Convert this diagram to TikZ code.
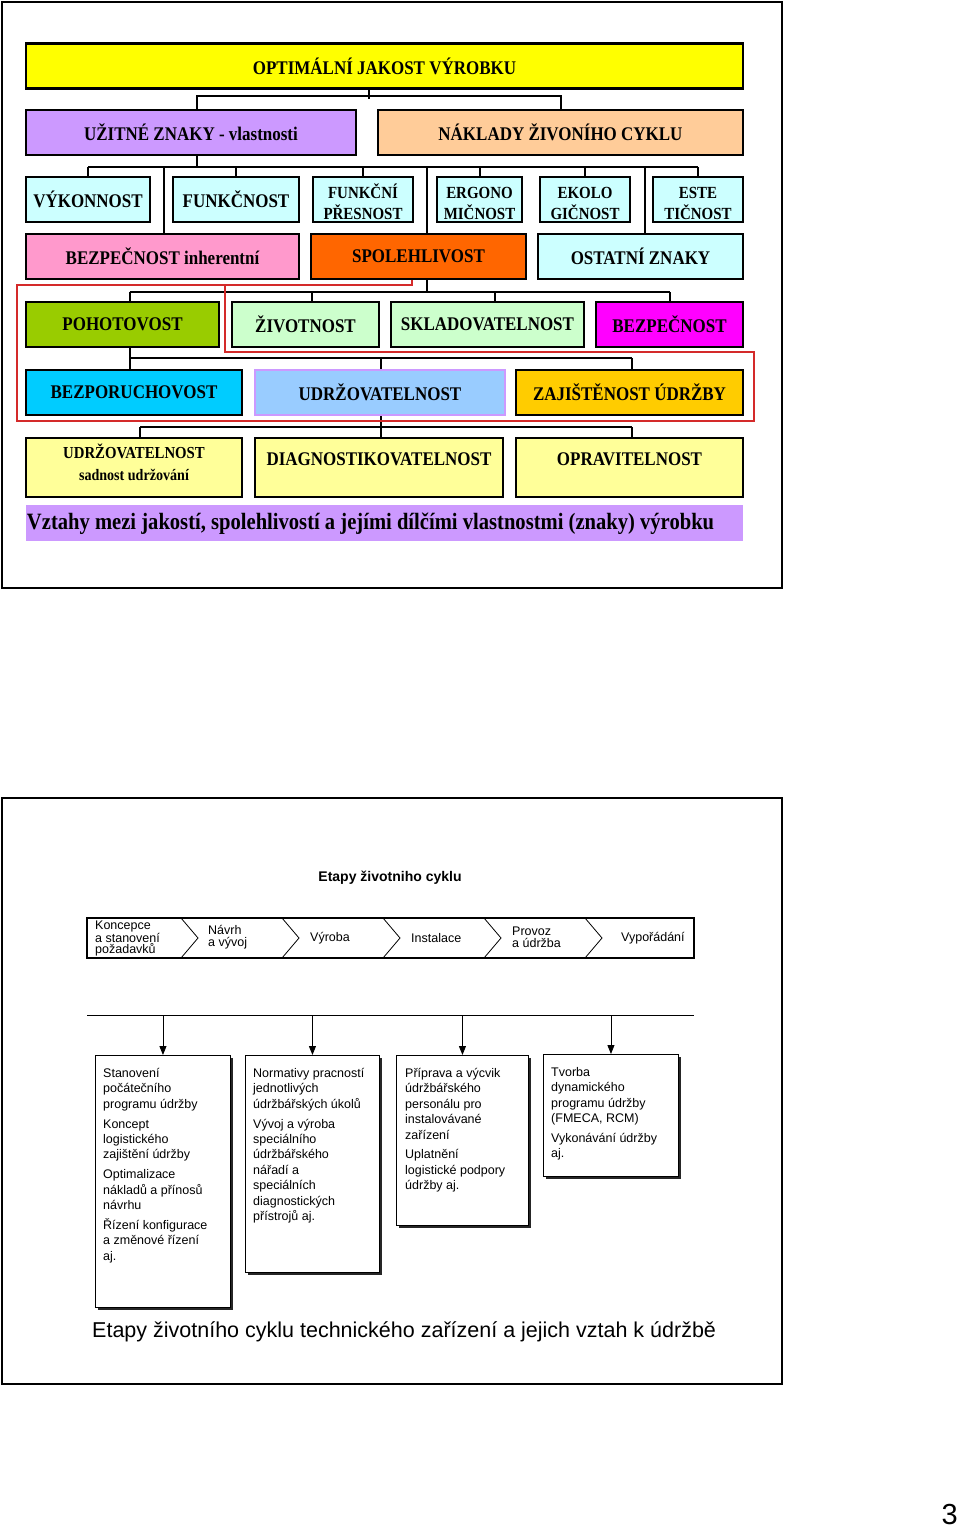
\documentclass[tikz,border=0pt]{standalone}
\usepackage{fontspec}
\setmainfont{Liberation Serif}
\newfontfamily\tmfont[FakeStretch=0.88]{Liberation Serif}
\newfontfamily\hvfont{Liberation Sans}
\usetikzlibrary{arrows.meta,shadows}

\definecolor{jyellow}{HTML}{FFFF00}
\definecolor{jlav}{HTML}{CC99FF}
\definecolor{jpeach}{HTML}{FFCC99}
\definecolor{jcyan}{HTML}{CCFFFF}
\definecolor{jpink}{HTML}{FF99CC}
\definecolor{jorange}{HTML}{FF6600}
\definecolor{jgreen}{HTML}{99CC00}
\definecolor{jmint}{HTML}{CCFFCC}
\definecolor{jmagenta}{HTML}{FF00FF}
\definecolor{jsky}{HTML}{00CCFF}
\definecolor{jblue}{HTML}{99CCFF}
\definecolor{jgold}{HTML}{FFCC00}
\definecolor{jcream}{HTML}{FFFF99}
\definecolor{jred}{HTML}{D42A2A}

\begin{document}
\begin{tikzpicture}[x=1pt,y=-1pt,
    jbox/.style={draw,line width=2.2pt,inner sep=0pt,minimum height=45pt,
      font=\tmfont\bfseries\fontsize{19.3}{22}\selectfont},
    jtwo/.style={align=center,font=\tmfont\bfseries\fontsize{17}{21}\selectfont},
    conn/.style={line width=2pt},
    stage/.style={draw,line width=0.9pt,fill=white,anchor=north west,inner sep=0pt,
      drop shadow={shadow xshift=3pt,shadow yshift=-3pt,fill=black,opacity=0.85}},
    stagetxt/.style={anchor=north west,inner sep=0pt,align=left,
      font=\hvfont\fontsize{12.5}{15.4}\selectfont},
    phase/.style={anchor=west,inner sep=0pt,align=left,
      font=\hvfont\fontsize{12.5}{11.5}\selectfont}]
  \useasboundingbox[fill=white] (0,0) rectangle (960,1528);

  % first frame: quality tree
  \draw[line width=1.6pt] (2,2) rectangle (782,588);
  \node[jbox,fill=jyellow,minimum width=717pt] (opt) at (384.5,66) {OPTIMÁLNÍ JAKOST VÝROBKU};
  \node[jbox,fill=jlav,minimum width=330pt] (uzit) at (191,132.5) {UŽITNÉ ZNAKY - vlastnosti};
  \node[jbox,fill=jpeach,minimum width=365pt] (nakl) at (560.5,132.5) {NÁKLADY ŽIVONÍHO CYKLU};

  \node[jbox,fill=jcyan,minimum width=124pt] (vyk) at (88,199.5) {VÝKONNOST};
  \node[jbox,fill=jcyan,minimum width=126pt] (funk) at (236,199.5) {FUNKČNOST};
  \node[jbox,fill=jcyan,minimum width=100pt,jtwo] (fpres) at (363,199.5) {\rule{0pt}{20pt}FUNKČNÍ\\PŘESNOST};
  \node[jbox,fill=jcyan,minimum width=85pt,jtwo] (ergo) at (479.5,199.5) {\rule{0pt}{20pt}ERGONO\\MIČNOST};
  \node[jbox,fill=jcyan,minimum width=90pt,jtwo] (ekol) at (585,199.5) {\rule{0pt}{20pt}EKOLO\\GIČNOST};
  \node[jbox,fill=jcyan,minimum width=90pt,jtwo] (este) at (698,199.5) {\rule{0pt}{20pt}ESTE\\TIČNOST};

  \node[jbox,fill=jpink,minimum width=273pt] (bezinh) at (162.5,256.5) {BEZPEČNOST inherentní};
  \node[jbox,fill=jorange,minimum width=215pt] (spol) at (418.5,256.5) {SPOLEHLIVOST};
  \node[jbox,fill=jcyan,minimum width=205pt] (ostat) at (640.5,256.5) {OSTATNÍ ZNAKY};

  \node[jbox,fill=jgreen,minimum width=193pt] (poh) at (122.5,324.5) {POHOTOVOST};
  \node[jbox,fill=jmint,minimum width=147pt] (ziv) at (305.5,324.5) {ŽIVOTNOST};
  \node[jbox,fill=jmint,minimum width=193pt] (sklad) at (487.5,324.5) {SKLADOVATELNOST};
  \node[jbox,fill=jmagenta,minimum width=147pt] (bez) at (669.5,324.5) {BEZPEČNOST};

  \node[jbox,fill=jsky,minimum width=216pt] (bezpor) at (134,392.5) {BEZPORUCHOVOST};
  \node[jbox,fill=jblue,draw=jlav,minimum width=250pt] (udrz) at (380,392.5) {UDRŽOVATELNOST};
  \node[jbox,fill=jgold,minimum width=227pt] (zaj) at (629.5,392.5) {ZAJIŠTĚNOST ÚDRŽBY};

  \node[jbox,fill=jcream,minimum width=216pt,minimum height=59pt,align=center,text depth=10pt,
    font=\tmfont\bfseries\fontsize{16.8}{22}\selectfont] (udrz2) at (134,467.5)
    {UDRŽOVATELNOST\\{\fontsize{16}{22}\selectfont sadnost udržování}};
  \node[jbox,fill=jcream,minimum width=248pt,minimum height=59pt,text depth=16pt] (diag) at (379,467.5) {DIAGNOSTIKOVATELNOST};
  \node[jbox,fill=jcream,minimum width=227pt,minimum height=59pt,text depth=16pt] (oprav) at (629.5,467.5) {OPRAVITELNOST};

  \node[fill=jlav,minimum width=717pt,minimum height=36pt,inner sep=0pt] (capa) at (384.5,523) {};
  \node[anchor=west,inner sep=0pt,font=\tmfont\bfseries\fontsize{23.4}{26}\selectfont] (capatxt)
    at ([xshift=1pt,yshift=-1pt]capa.west)
    {Vztahy mezi jakostí, spolehlivostí a jejími dílčími vlastnostmi (znaky) výrobku};

  % connectors
  \draw[conn] ([xshift=-16pt]opt.south) -- ++(0,9);
  \draw[conn] ([xshift=6pt]uzit.north) -- ++(0,-13) -| (nakl.north);
  \coordinate (bar2) at (0,167);
  \draw[conn] ([xshift=6pt]uzit.south) -- ([xshift=6pt]uzit.south |- bar2);
  \draw[conn] (vyk.north |- bar2) -- (este.north |- bar2);
  \foreach \n in {vyk,funk,fpres,ergo,ekol,este}
    \draw[conn] (\n.north) -- (\n.north |- bar2);
  \foreach \n/\dx in {bezinh/1,spol/8,ostat/4}
    \draw[conn] ([xshift=\dx pt]\n.north) -- ([xshift=\dx pt]\n.north |- bar2);

  \coordinate (bar3) at (0,292);
  \draw[conn] ([xshift=8pt]spol.south) -- ([xshift=8pt]spol.south |- bar3);
  \draw[conn] ([xshift=7pt]poh.north |- bar3) -- (bez.north |- bar3);
  \foreach \n/\dx in {poh/7,ziv/6,sklad/7,bez/0}
    \draw[conn] ([xshift=\dx pt]\n.north) -- ([xshift=\dx pt]\n.north |- bar3);

  \coordinate (bar4) at (0,358);
  \draw[conn] ([xshift=7pt]poh.south) -- ([xshift=7pt]poh.south |- bar4);
  \draw[conn] ([xshift=-4pt]bezpor.north |- bar4) -- ([xshift=2pt]zaj.north |- bar4);
  \foreach \n/\dx in {bezpor/-4,udrz/1,zaj/2}
    \draw[conn] ([xshift=\dx pt]\n.north) -- ([xshift=\dx pt]\n.north |- bar4);

  \coordinate (bar5) at (0,427);
  \draw[conn] ([xshift=1pt]udrz.south) -- ([xshift=1pt]udrz.south |- bar5);
  \draw[conn] ([xshift=6pt]udrz2.north |- bar5) -- ([xshift=2pt]oprav.north |- bar5);
  \foreach \n/\dx in {udrz2/6,diag/2,oprav/2}
    \draw[conn] ([xshift=\dx pt]\n.north) -- ([xshift=\dx pt]\n.north |- bar5);

  % red outline
  \draw[jred,line width=1.3pt] (412,280) -- (412,285) -- (17,285) -- (17,421) -- (754,421)
    -- (754,352) -- (225,352) -- (225,286);

  % second frame: life cycle
  \draw[line width=1.6pt] (2,798) rectangle (782,1384);
  \node[font=\hvfont\bfseries\fontsize{14}{16}\selectfont] (etapy) at (390,878) {Etapy životniho cyklu};

  \draw[line width=1.4pt] (87,918) rectangle (694,958);
  \foreach \x in {181,282,383,484,585}
    \draw[line width=0.8pt] (\x,918) -- (\x+17,938) -- (\x,958);
  \node[phase] (ph1) at (95,938.5) {Koncepce\\a stanovení\\požadavků};
  \node[phase] (ph2) at (208,937) {Návrh\\a vývoj};
  \node[phase] (ph3) at (310,938) {Výroba};
  \node[phase] (ph4) at (411,938) {Instalace};
  \node[phase] (ph5) at (512,937) {Provoz\\a údržba};
  \node[phase] (ph6) at (621,938) {Vypořádání};

  \coordinate (hl) at (87,1015);
  \coordinate (hr) at (694,1015);
  \draw[line width=0.8pt] (hl) -- (hr);

  \node[stage,minimum width=135pt,minimum height=252pt] (st1) at (95,1055) {};
  \node[stage,minimum width=134pt,minimum height=217pt] (st2) at (245,1055) {};
  \node[stage,minimum width=132pt,minimum height=170pt] (st3) at (396,1055) {};
  \node[stage,minimum width=135pt,minimum height=122pt] (st4) at (543,1054) {};

  \foreach \n in {st1,st2,st3,st4}
    \draw[line width=0.9pt,-{Triangle[length=9pt,width=7pt]}] (\n.north |- hl) -- (\n.north);

  \node[stagetxt] (tx1) at ([shift={(8,13)}]st1.north west)
    {Stanovení\\počátečního\\programu údržby\\[4.5pt]Koncept\\logistického\\zajištění údržby\\[4.5pt]%
     Optimalizace\\nákladů a přínosů\\návrhu\\[4.5pt]Řízení konfigurace\\a změnové řízení\\aj.};
  \node[stagetxt] (tx2) at ([shift={(8,13)}]st2.north west)
    {Normativy pracností\\jednotlivých\\údržbářských úkolů\\[4.5pt]Vývoj a výroba\\speciálního\\%
     údržbářského\\nářadí a\\speciálních\\diagnostických\\přístrojů aj.};
  \node[stagetxt] (tx3) at ([shift={(9,13)}]st3.north west)
    {Příprava a výcvik\\údržbářského\\personálu pro\\instalovávané\\zařízení\\[4.5pt]%
     Uplatnění\\logistické podpory\\údržby aj.};
  \node[stagetxt] (tx4) at ([shift={(8,13)}]st4.north west)
    {Tvorba\\dynamického\\programu údržby\\(FMECA, RCM)\\[4.5pt]Vykonávání údržby\\aj.};

  \node[anchor=west,inner sep=0pt,font=\hvfont\fontsize{21.5}{24}\selectfont] (capb) at (92,1332)
    {Etapy životního cyklu technického zařízení a jejich vztah k údržbě};

  \node[anchor=east,inner sep=0pt,font=\hvfont\fontsize{29}{32}\selectfont] (pg) at (958,1514) {3};
\end{tikzpicture}
\end{document}
